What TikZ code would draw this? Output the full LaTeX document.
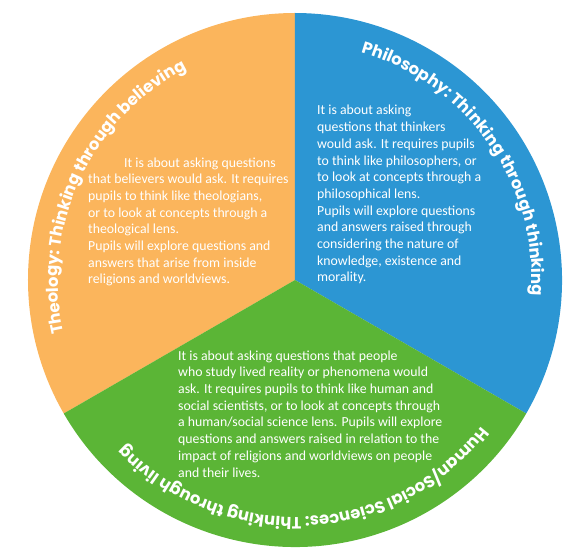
\documentclass[tikz,border=0pt]{standalone}
\usepackage{fontspec}
\setmainfont{Carlito}
\newfontfamily\titlefont{Poppins}
\usetikzlibrary{decorations.text}
\definecolor{orangeC}{RGB}{251,181,92}
\definecolor{blueC}{RGB}{44,150,211}
\definecolor{greenC}{RGB}{91,181,54}
\tikzset{
  sector/.style={draw=none},
  bodytext/.style={anchor=base west, inner sep=0pt, align=left, text=white,
    font=\fontsize{13.8}{16.7}\selectfont},
  arctitle/.style={decorate, decoration={text along path, text align=center,
    text color=white, text={|\titlefont\bfseries\fontsize{16.4}{16.4}\selectfont|#1}}}
}
\begin{document}
\begin{tikzpicture}[x=1pt,y=1pt]
\useasboundingbox (-295,-274) rectangle (276,280);
\fill[orangeC,sector] (0,0) -- (90:267) arc[start angle=90, end angle=210, radius=267] -- cycle;
\fill[blueC,sector] (0,0) -- (-30:267) arc[start angle=-30, end angle=90, radius=267] -- cycle;
\fill[greenC,sector] (0,0) -- (210:267) arc[start angle=210, end angle=330, radius=267] -- cycle;

\path[arctitle={Theology:  Thinking through believing}] (215:237) arc[start angle=215, end angle=95, radius=237];
\path[arctitle={Philosophy: Thinking through thinking}] (95:237) arc[start angle=95, end angle=-25, radius=237];
\path[arctitle={Human/Social Sciences: Thinking through living}] (-27:237) arc[start angle=-27, end angle=-147, radius=237];

\node[bodytext] (theo) at (-207,-4) {\hspace*{36pt}It is about asking questions\\
that believers would ask. It requires\\
pupils to think like theologians,\\
or to look at concepts through a\\
theological lens.\\
Pupils will explore questions and\\
answers that arise from inside\\
religions and worldviews.};

\node[bodytext] (phil) at (22,-2) {It is about asking\\
questions that thinkers\\
would ask. It requires pupils\\
to think like philosophers, or\\
to look at concepts through a\\
philosophical lens.\\
Pupils will explore questions\\
and answers raised through\\
considering the nature of\\
knowledge, existence and\\
morality.};

\node[bodytext] (hum) at (-117,-197) {It is about asking questions that people\\
who study lived reality or phenomena would\\
ask. It requires pupils to think like human and\\
social scientists, or to look at concepts through\\
a human/social science lens. Pupils will explore\\
questions and answers raised in relation to the\\
impact of religions and worldviews on people\\
and their lives.};
\end{tikzpicture}
\end{document}
